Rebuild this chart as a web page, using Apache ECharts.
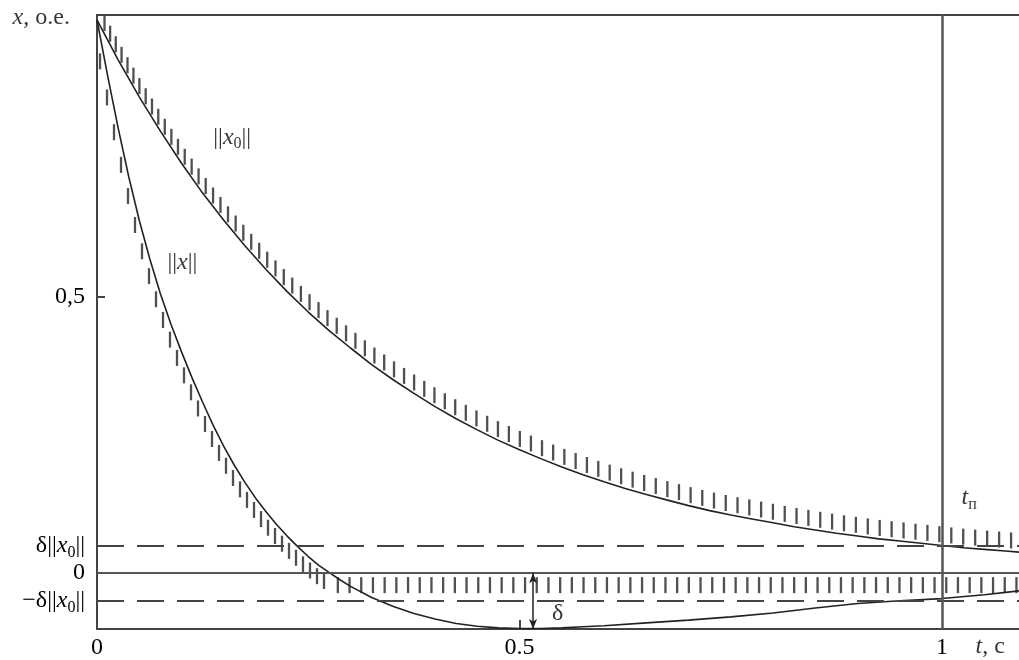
<!DOCTYPE html>
<html><head><meta charset="utf-8">
<script src="https://cdn.jsdelivr.net/npm/echarts@6/dist/echarts.min.js"></script>
<style>html,body{margin:0;padding:0;background:#fff}#c{width:1019px;height:660px}</style>
</head><body><div id="c"></div>
<script>
// ||x0|| curve
const T_X0 = [0, 0.025, 0.05, 0.075, 0.1, 0.125, 0.15, 0.175, 0.2, 0.225, 0.25, 0.275, 0.3, 0.325, 0.35, 0.375, 0.4, 0.425, 0.45, 0.475, 0.5, 0.525, 0.55, 0.575, 0.6, 0.625, 0.65, 0.675, 0.7, 0.725, 0.75, 0.775, 0.8, 0.825, 0.85, 0.875, 0.9, 0.925, 0.95, 0.975, 1.0, 1.025, 1.05, 1.075, 1.091];
const V_X0 = [1.0, 0.928, 0.861, 0.799, 0.741, 0.687, 0.638, 0.592, 0.549, 0.509, 0.472, 0.438, 0.407, 0.377, 0.350, 0.325, 0.301, 0.279, 0.259, 0.240, 0.223, 0.207, 0.192, 0.178, 0.165, 0.153, 0.142, 0.132, 0.122, 0.113, 0.105, 0.098, 0.091, 0.084, 0.078, 0.072, 0.067, 0.062, 0.058, 0.054, 0.050, 0.046, 0.043, 0.040, 0.038];
// ||x|| curve
const T_X = [0, 0.0125, 0.025, 0.0375, 0.05, 0.0625, 0.075, 0.0875, 0.1, 0.1125, 0.125, 0.1375, 0.15, 0.1625, 0.175, 0.1875, 0.2, 0.2125, 0.225, 0.2375, 0.25, 0.2625, 0.275, 0.2875, 0.3, 0.325, 0.35, 0.375, 0.4, 0.425, 0.45, 0.475, 0.5, 0.525, 0.55, 0.575, 0.6, 0.65, 0.7, 0.75, 0.8, 0.85, 0.9, 0.95, 1.0, 1.05, 1.091];
const V_X = [1.0, 0.900, 0.805, 0.717, 0.638, 0.568, 0.505, 0.450, 0.400, 0.353, 0.309, 0.267, 0.229, 0.195, 0.164, 0.136, 0.111, 0.088, 0.067, 0.048, 0.030, 0.014, 0.001, -0.012, -0.024, -0.044, -0.060, -0.073, -0.083, -0.091, -0.096, -0.099, -0.100, -0.100, -0.099, -0.097, -0.095, -0.090, -0.085, -0.079, -0.072, -0.063, -0.055, -0.050, -0.046, -0.039, -0.032];
// reference levels
const DELTA = 0.05;
const T_SETTLE = 1;
const T_ZERO_HATCH = 0.285;   // hatching under zero line begins
const T_X_HATCH_END = 0.276;  // hatching along ||x|| ends
// tick labels
const X_TICK_VALUES = [0, 0.5, 1];
const X_TICK_LABELS = ['0', '0.5', '1'];
const Y_TICK_VALUES = [-0.05, 0, 0.05, 0.5];
const Y_TICK_LABELS = ['{n|−δ||}{i|x}{s|0}{n|||}', '{n|0}', '{n|δ||}{i|x}{s|0}{n|||}', '{n|0,5}'];
// annotations [t, value, text]
const NOTES = [
  [0.160, 0.788, '{n|||}{i|x}{s|0}{n|||}'],
  [0.101, 0.561, '{n|||}{i|x}{n|||}'],
  [1.032, 0.136, '{i|t}{s|п}'],
  [0.545, -0.074, '{n|δ}'],
  [1.057, -0.133, '{i|t}{n|, с}'],
  [-0.066, 1.004, '{i|x}{n|, о.е.}']
];

const FONT = 'Liberation Serif';
const RICH = {
  n: {fontFamily: FONT, fontSize: 24, color: '#000', lineHeight: 30},
  i: {fontFamily: FONT, fontSize: 24, color: '#000', lineHeight: 30, fontStyle: 'italic'},
  s: {fontFamily: FONT, fontSize: 16, color: '#000', lineHeight: 16, verticalAlign: 'bottom'}
};
const INK = '#222';
const GRAY = '#505050';

function pick(vals, labels, v) {
  for (let i = 0; i < vals.length; i++) if (Math.abs(vals[i] - v) < 1e-9) return labels[i];
  return '';
}
function pixels(api, ts, vs) { return ts.map((t, i) => api.coord([t, vs[i]])); }
function yAt(pts, x) {
  for (let i = 0; i < pts.length - 1; i++) {
    const a = pts[i], b = pts[i + 1];
    if (x >= a[0] && x <= b[0]) { const f = (x - a[0]) / (b[0] - a[0] || 1); return a[1] + f * (b[1] - a[1]); }
  }
  return pts[pts.length - 1][1];
}
function arcSamples(pts, step, offset) {
  const out = []; let next = offset, dist = 0;
  for (let i = 0; i < pts.length - 1; i++) {
    const [x1, y1] = pts[i], [x2, y2] = pts[i + 1];
    const L = Math.hypot(x2 - x1, y2 - y1);
    while (next <= dist + L) { const f = (next - dist) / L; out.push([x1 + f * (x2 - x1), y1 + f * (y2 - y1)]); next += step; }
    dist += L;
  }
  return out;
}
function tick(x, y1, y2) {
  return {type: 'line', shape: {x1: x, y1: y1, x2: x, y2: y2}, style: {stroke: GRAY, lineWidth: 2.3}};
}

const chart = echarts.init(document.getElementById('c'), null, {renderer: 'canvas'});
chart.setOption({
  animation: false,
  backgroundColor: '#fff',
  grid: {left: 97, right: 0, top: 15, bottom: 30},
  xAxis: [{
    type: 'value', min: 0, max: 1.091, interval: 0.5,
    axisLine: {show: true, onZero: false, lineStyle: {color: '#444', width: 2}},
    axisTick: {show: true, inside: true, length: 9, customValues: [0.5], lineStyle: {color: '#444', width: 2}},
    axisLabel: {show: true, margin: 4, customValues: X_TICK_VALUES, rich: RICH,
      formatter: v => '{n|' + pick(X_TICK_VALUES, X_TICK_LABELS, v) + '}'},
    splitLine: {show: false}
  }, {
    type: 'value', position: 'top', min: 0, max: 1.091,
    axisLine: {show: true, onZero: false, lineStyle: {color: '#444', width: 2}},
    axisTick: {show: false}, axisLabel: {show: false}, splitLine: {show: false}
  }],
  yAxis: {
    type: 'value', min: -0.101, max: 1.009, interval: 0.5,
    axisLine: {show: true, onZero: false, lineStyle: {color: '#444', width: 2}},
    axisTick: {show: true, inside: true, length: 8, customValues: [0.5], lineStyle: {color: '#444', width: 2}},
    axisLabel: {show: true, margin: 12, customValues: Y_TICK_VALUES, rich: RICH,
      formatter: v => pick(Y_TICK_VALUES, Y_TICK_LABELS, v)},
    splitLine: {show: false}
  },
  series: [
    {
      type: 'line', name: '||x0||', data: T_X0.map((t, i) => [t, V_X0[i]]),
      showSymbol: false, smooth: false,
      lineStyle: {color: INK, width: 1.6},
      markLine: {
        silent: true, symbol: ['none', 'none'], label: {show: false},
        data: [
          {yAxis: 0, lineStyle: {color: '#555', width: 2, type: 'solid'}},
          {yAxis: DELTA, lineStyle: {color: '#444', width: 2, type: [27, 13]}},
          {yAxis: -DELTA, lineStyle: {color: '#444', width: 2, type: [27, 13]}},
          {xAxis: T_SETTLE, lineStyle: {color: '#555', width: 2.5, type: 'solid'}}
        ]
      }
    },
    {
      type: 'line', name: '||x||', data: T_X.map((t, i) => [t, V_X[i]]),
      showSymbol: false, smooth: false,
      lineStyle: {color: INK, width: 1.6},
      markLine: {
        silent: true, symbol: ['arrow', 'arrow'], symbolSize: [6, 10], label: {show: false},
        lineStyle: {color: '#222', width: 1.5, type: 'solid'},
        data: [[{coord: [0.516, 0]}, {coord: [0.516, -0.101]}]]
      }
    },
    {
      // hatching above ||x0||
      type: 'custom', data: [[0, 0]], silent: true, clip: true,
      renderItem: (params, api) => {
        const pts = pixels(api, T_X0, V_X0);
        const children = arcSamples(pts, 12, 16).map(p => tick(p[0], p[1] - 3, p[1] - 19));
        return {type: 'group', children};
      }
    },
    {
      // hatching along ||x|| and under the zero line
      type: 'custom', data: [[0, 0]], silent: true, clip: true,
      renderItem: (params, api) => {
        const pts = pixels(api, T_X, V_X);
        const y0 = api.coord([0, 0])[1];
        const xEnd = api.coord([T_X_HATCH_END, 0])[0];
        const children = [];
        for (let x = pts[0][0] + 6; x <= xEnd; x += 7) {
          const py = Math.min(yAt(pts, x), y0);
          children.push(tick(x - 3, py + 2, py + 18));
        }
        const right = api.coord([T_X[T_X.length - 1], 0])[0];
        for (let x = api.coord([T_ZERO_HATCH, 0])[0]; x <= right + 1; x += 11.7) {
          children.push(tick(x, y0 + 4, y0 + 20));
        }
        return {type: 'group', children};
      }
    },
    {
      type: 'scatter', silent: true, clip: false, symbolSize: 0,
      data: NOTES.map(n => ({value: [n[0], n[1]], name: n[2]})),
      label: {show: true, position: 'inside', formatter: '{b}', rich: RICH}
    }
  ]
});
</script></body></html>
